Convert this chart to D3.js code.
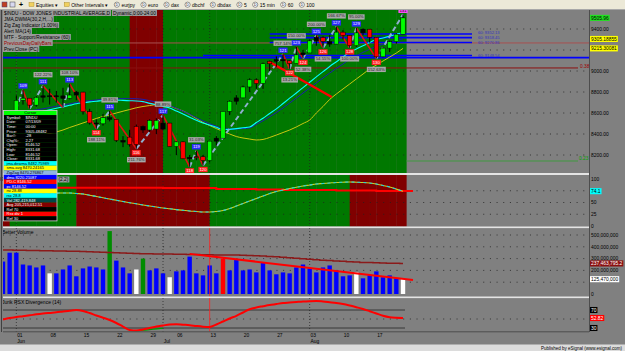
<!DOCTYPE html>
<html><head><meta charset="utf-8">
<script src="https://cdn.jsdelivr.net/npm/d3@7"></script>
<style>
html,body{margin:0;padding:0;background:#808080;overflow:hidden;}
svg{display:block;}
text{font-family:"Liberation Sans",Arial,sans-serif;}
</style></head><body>
<svg id="chart" width="625" height="351"></svg>
<script>
// ---------------- DATA ----------------
const opens=[8300,8404,8500,8721,8741,8675,8750,8764,8764,8763,8739,8771,8799,8612,8505,8497,8556,8540,8339,8370,8300,8472,8438,8529,8447,8504,8281,8325,8164,8178,8183,8147,8332,8360,8616,8712,8744,8848,8916,8881,9069,9093,9108,9097,9071,9154,9172,9287,9320,9281,9256,9370,9338,9241,9363,9398,9321,9135,9218,9279,9350];
const highs=[8440,8510,8768,8820,8741,8760,8860,8830,8810,8840,8877,8810,8799,8640,8540,8590,8620,8540,8380,8440,8490,8480,8540,8550,8580,8504,8330,8330,8200,8240,8200,8332,8380,8620,8720,8770,8860,8930,8930,9080,9100,9140,9160,9100,9230,9200,9300,9340,9330,9340,9420,9390,9338,9410,9405,9400,9321,9230,9290,9360,9540];
const lows=[8277,8381,8500,8680,8640,8660,8700,8680,8700,8650,8730,8720,8585,8490,8450,8480,8520,8323,8275,8280,8260,8410,8420,8400,8440,8280,8200,8160,8087,8150,8100,8130,8290,8360,8580,8680,8740,8800,8830,8830,9000,9040,9030,9020,9070,9120,9172,9240,9220,9230,9256,9300,9220,9230,9340,9270,9120,9130,9180,9260,9350];
const closes=[8404,8500,8721,8741,8675,8750,8764,8764,8763,8739,8771,8799,8612,8505,8497,8556,8540,8339,8323,8300,8472,8438,8529,8447,8504,8281,8325,8164,8178,8183,8147,8332,8360,8616,8712,8744,8848,8916,8881,9069,9093,9108,9097,9071,9154,9172,9287,9320,9281,9256,9370,9338,9241,9363,9398,9321,9135,9218,9279,9350,9506];
const candleColors=["g","g","g","g","r","g","k","k","k","k","g","k","r","r","k","g","k","r","k","r","r","k","g","g","k","r","g","r","k","r","r","g","k","g","g","k","g","g","r","g","r","k","k","r","g","k","g","k","r","k","g","r","r","g","k","r","r","g","g","g","g"];
const jma=[8557,8567,8576,8586,8595,8605,8616,8630,8645,8659,8673,8688,8698,8706,8712,8719,8724,8723,8720,8717,8715,8708,8692,8678,8663,8648,8619,8590,8560,8530,8505,8485,8464,8443,8444,8451,8459,8467,8509,8550,8595,8639,8690,8741,8791,8842,8893,8944,8994,9043,9088,9133,9180,9210,9240,9271,9299,9315,9332,9350,9367];
const dma=[8590,8598,8606,8614,8622,8630,8640,8652,8664,8676,8688,8700,8710,8718,8724,8730,8734,8736,8737,8737,8736,8730,8718,8704,8688,8670,8645,8617,8588,8555,8524,8498,8474,8452,8446,8448,8452,8458,8492,8526,8565,8604,8648,8695,8742,8790,8838,8887,8934,8980,9025,9067,9110,9145,9177,9207,9235,9255,9275,9292,9305];
const sma=[8267,8286,8305,8333,8352,8371,8390,8405,8419,8438,8462,8483,8505,8526,8548,8567,8581,8600,8617,8633,8650,8662,8671,8681,8686,8667,8643,8619,8586,8548,8510,8481,8452,8424,8400,8376,8362,8352,8343,8348,8367,8390,8414,8438,8467,8500,8533,8600,8662,8729,8781,8829,8876,8924,8971,9019,9057,9095,9133,9171,9215];
const mainTrend=[1,1,1,1,1,1,1,1,1,1,1,1,1,1,1,1,1,1,1,0,0,0,0,0,1,1,1,1,1,1,1,1,1,1,1,1,1,1,1,1,1,1,1,1,1,1,1,1,1,1,1,1,1,1,1,1,1,1,1,1,1];
const stochTrend=[0,1,1,1,1,1,1,1,1,1,1,0,0,0,0,0,0,0,0,0,0,0,0,0,0,0,0,0,0,0,0,1,1,1,1,1,1,1,1,1,1,1,1,1,1,1,1,1,1,1,1,1,0,0,0,0,0,0,0,0,0];
const pivotIdx=[0,3,4,6,9,10,14,16,20,24,28,29,30,42,43,44,45,47,48,50,52,53,56,60];
const pivotType=["L","H","L","H","L","H","L","H","L","H","L","H","L","H","L","H","L","H","L","H","L","H","L","H"];
const pivotNum=["108","109","110","111","112","113","114","115","116","117","118","119","120","121","122","123","124","125","126","127","128","129","130","131"];
const alertLine=[[40,9086],[49.3,8752]];
const mtfLevels=[9352,9318,9271,9148,9127];
const mtfStartIdx=[40,40,40,30,0];
const mtfFull=[false,false,false,false,true];
const mtfText=["60: 9352.13","60: 9318.45","60: 9270.86","60: 9148.54",""];
const prevCloseLevel=9267;
const fibLevels=[9029,8143];
const fibText=["0.38","0.23"];
const priceTicks=[8200,8400,8600,8800,9000,9200,9400];
const priceTickShown=[true,true,true,true,true,false,true];
const lastPrice=9505.96;
const maLabels=[9305.18855,9215.30081];
const maLabelText=["9305.18855","9215.30081"];
const stochLine=[70,70,70,70,70,70,70,70,70,70.2,70.2,69.1,68.1,65.3,62.8,60.0,57.4,54.7,52.1,49.6,47.2,44.7,42.6,40.4,38.3,36.6,34.9,33.4,31.9,30.9,29.8,29.8,30.9,33.0,37.2,42.6,47.9,53.2,58.5,63.8,69.1,73.4,76.6,79.8,82.3,85.1,87.2,89.4,90.4,91.5,92.6,93.2,93.6,93.2,92.6,91.5,89.4,86.2,83.0,78.5,74.1];
const stochSignal=[81.5,81.5,81.5,81.5,81.5,81.5,81.5,81.5,81.5,81.5,81.5,81.5,81.2,81.2,81.2,81.2,81.2,81.2,81.2,81.2,81.2,81.2,81.2,81.2,80.9,80.9,80.9,80.9,80.9,80.9,80.9,80.9,78.7,78.7,78.7,78.7,78.7,78.7,77.5,77.5,77.5,77.5,76.6,76.6,76.6,76.6,76.6,76.6,76.6,76.6,75.5,75.5,75.5,75.5,75.5,75.5,74.6,74.6,74.6,74.6,74.6];
const stochTicks=[0,25,50,75,100];
const stochTickShown=[true,true,true,false,true];
const volumes=[275,350,350,250,242,225,242,175,175,208,242,150,217,233,225,208,533,283,225,175,208,300,200,217,175,142,192,200,317,175,158,242,175,300,200,292,200,208,183,267,200,167,183,175,225,250,217,183,225,242,200,150,158,183,133,158,192,142,158,133,125.47];
const volColors=["b","b","b","b","b","b","b","w","b","b","b","b","b","b","b","b","g","b","b","b","w","g","b","b","b","w","b","b","b","b","b","b","b","r","b","b","b","b","b","b","b","b","b","b","b","b","b","b","b","b","b","b","b","w","b","b","b","b","b","b","w"];
const volAvg=[373,372,371,370,369,368,367,366,365,364,363,362,360,358,356,354,352,350,348,346,344,342,341,340,339,338,337,336,335,334,333,332,331,330,330,330,329,327,324,321,318,315,311,307,303,299,295,291,287,283,280,277,274,271,268,266,264,262,261,260,259];
const volTrend=[[28,340],[61.5,119]];
const volTicks=[0,100,200,300,400,500];
const volTickShown=[true,false,true,true,true,true];
const rsx=[48.9,52.2,54.4,56.2,58.2,60.4,62.2,63.6,64.9,66.7,68.4,70,67.8,63.3,57.8,52.9,47.8,41.1,33.3,25.6,24.4,26.7,30,33.3,35.6,37.8,38.4,37.3,36.2,34.4,32.9,32.2,37.8,44.4,51.1,57.1,64.4,71.6,75.6,78.4,81.1,83.3,85.6,86.7,87.8,88.9,89.6,90,88.9,87.3,85.6,83.3,80,76.2,72.2,67.3,62.2,57.3,54,52.7,52.2];
const rsxDivIdx=[19,20,21,22,23,24];
const rsxDiv=[25.0,24.0,25.0,26.5,28.0,29.5];
const rsxRefs=[70,30];
const tickIdx=[2,7,12,17,22,26,31,36,41,46,51,56];
const tickLabels=["01","08","15","22","29","06","13","20","27","03","10","17"];
const monthIdx=[2,24,46];
const monthLabels=["Jun","Jul","Aug"];
const cursorIdx=31;
const legendLines=["$INDU - DOW JONES INDUSTRIAL AVERAGE,D","JMA,DWMA(30,2,H,...)","Zig Zag Indicator (1.00%)","Alert MA(14)","MTF - Support/Resistance (60)","PreviousDayDailyBars","Prev.Close (PC)"];
const toolbarItems=["Equities \u25BE","Other Intervals \u25BE","eurjpy","euro","dax","dbchf","dbdax","5","15 min","60","100"];
const infoRows=[
 ["Cursor","","#00ff00","#000"],
 ["Symbol:","$INDU","#000","#fff"],["Date:","07/13/09","#000","#fff"],["Time:","00:00","#000","#fff"],
 ["Price:","9305.48482","#000","#fff"],["Bar#:","-28","#000","#fff"],["Chg%:","2.27","#000","#fff"],
 ["Open:","8146.52","#000","#fff"],["High:","8331.68","#000","#fff"],["Low:","8146.52","#000","#fff"],["Close:","8331.68","#000","#fff"],
 ["jma.dewma","8482.75989","#00ffff","#000"],["sma.avg","8470.24165","#ffff00","#000"],["ZigZag","8470.276867","#8fb4e0","#000"],
 ["dma","8220.21087","#0000ff","#fff"],["PD.C","8146.52","#ff0000","#fff"],["pc","8146.52","#0000ff","#fff"],
 ["rsi","28.88","#ffff00","#000"],["rsx","28.8","#00ffff","#000"],["Vol","282,419,848","#004848","#fff"],
 ["Avg","205,215,012.51","#800000","#fff"],["Ref","70","#000","#fff"],["Rsx div","1","#ff0000","#fff"],["Ref","30","#000","#fff"]
];

// ---------------- LAYOUT ----------------
const svg=d3.select('#chart');
const N=opens.length;
const x=d3.scaleLinear().domain([0,60]).range([3,403]);
const yP=d3.scaleLinear().domain([8000,9600]).range([176,8]);
const yS=d3.scaleLinear().domain([0,100]).range([226,179]);
const yV=d3.scaleLinear().domain([0,500]).range([294,235]);
const yR=d3.scaleLinear().domain([30,70]).range([328,310]);
const XL=3, XR=589, XEND=x(60.5);
const GREEN='#007800', DRED='#800000';
const rowH=4.6, ib0=110.5, ibx=3.5, ibw=53.5;
const inInfo=(px,py)=>px>ibx-6&&px<ibx+ibw+6&&py>ib0-3&&py<ib0+24*rowH+3;

svg.append('rect').attr('width',625).attr('height',351).attr('fill','#808080');
const defs=svg.append('defs');
function clip(id,y0,y1){defs.append('clipPath').attr('id',id).append('rect').attr('x',XL).attr('y',y0).attr('width',XR-XL).attr('height',y1-y0);return `url(#${id})`;}
const cMain=clip('cm',10,173), cSto=clip('cs',175,226.5), cVol=clip('cv',228,296.5), cRsx=clip('cr',298,331.5);

function boxText(g,x0,yc,text,bg,fg,fs,anchor,pad,weight){
  const grp=g.append('g');
  const r=grp.append('rect');
  const t=grp.append('text').attr('x',x0).attr('y',yc+fs*0.36).attr('text-anchor',anchor||'start').attr('font-size',fs).attr('fill',fg).attr('font-weight',weight||'normal').text(text);
  const w=t.node().getComputedTextLength()+2*(pad||1);
  let rx=x0-(pad||1); if(anchor==='middle')rx=x0-w/2; if(anchor==='end')rx=x0-w+(pad||1);
  r.attr('x',rx).attr('y',yc-fs*0.62).attr('width',w).attr('height',fs*1.24).attr('fill',bg);
  return grp;
}

// toolbar
const tb=svg.append('g');
tb.append('rect').attr('x',0).attr('y',0).attr('width',625).attr('height',9.5).attr('fill','#ece9d8');
tb.append('line').attr('x1',0).attr('x2',625).attr('y1',9.5).attr('y2',9.5).attr('stroke','#a8a8a8');
tb.append('rect').attr('x',2).attr('y',2).attr('width',5).attr('height',5).attr('fill','#c04020').attr('stroke','#404080').attr('stroke-width',0.5);
tb.append('rect').attr('x',10).attr('y',2).attr('width',5).attr('height',5).attr('fill','#d8d8f0').attr('stroke','#404040').attr('stroke-width',0.5);
tb.append('text').attr('x',19).attr('y',7.2).attr('font-size',7).attr('font-weight','bold').text('+');
{
  let cx=29;
  toolbarItems.forEach((t,k)=>{
    if(k<2){
      tb.append('rect').attr('x',cx).attr('y',2.5).attr('width',5).attr('height',4).attr('fill','#f0d060').attr('stroke','#a08020').attr('stroke-width',0.4);
      cx+=7;
    } else {
      tb.append('circle').attr('cx',cx+2.5).attr('cy',4.7).attr('r',2.6).attr('fill','#fff').attr('stroke','#303030').attr('stroke-width',0.5);
      tb.append('text').attr('x',cx+2.5).attr('y',6.2).attr('text-anchor','middle').attr('font-size',3.6).text('D');
      cx+=7;
    }
    const tt=tb.append('text').attr('x',cx).attr('y',6.6).attr('font-size',5).attr('fill','#000').text(t);
    cx+=tt.node().getComputedTextLength()+6;
  });
}

// ---------------- MAIN PANEL ----------------
const gm=svg.append('g').attr('clip-path',cMain);
for(let i=0;i<N;i++){
  const x0=i===0?XL:x(i), x1=Math.min(x(i+1),XEND);
  gm.append('rect').attr('x',x0).attr('y',10).attr('width',x1-x0+0.3).attr('height',163).attr('fill',mainTrend[i]?GREEN:DRED);
}
priceTicks.forEach(p=>gm.append('line').attr('x1',XL).attr('x2',XR).attr('y1',yP(p)).attr('y2',yP(p)).attr('stroke','#202020').attr('stroke-dasharray','1,5.67').attr('stroke-width',0.8));
monthIdx.forEach(i=>gm.append('line').attr('x1',x(i)).attr('x2',x(i)).attr('y1',10).attr('y2',173).attr('stroke','#202020').attr('stroke-dasharray','1,2').attr('stroke-width',0.7));
gm.append('line').attr('x1',x(cursorIdx)).attr('x2',x(cursorIdx)).attr('y1',10).attr('y2',173).attr('stroke','#202020').attr('stroke-dasharray','1,2').attr('stroke-width',0.7);
gm.append('line').attr('x1',XL).attr('x2',XR).attr('y1',yP(prevCloseLevel)).attr('y2',yP(prevCloseLevel)).attr('stroke','#a85050').attr('stroke-width',1);
gm.append('line').attr('x1',XL).attr('x2',578).attr('y1',yP(fibLevels[0])).attr('y2',yP(fibLevels[0])).attr('stroke','#8b1010').attr('stroke-width',1);
gm.append('line').attr('x1',XEND).attr('x2',578).attr('y1',yP(fibLevels[1])).attr('y2',yP(fibLevels[1])).attr('stroke','#30a030').attr('stroke-width',0.8);
mtfLevels.forEach((p,k)=>{
  gm.append('line').attr('x1',Math.max(XL,x(mtfStartIdx[k]))).attr('x2',mtfFull[k]?XR:472).attr('y1',yP(p)).attr('y2',yP(p)).attr('stroke','#0000ff').attr('stroke-width',1.6);
});
const lineP=(arr)=>d3.line().x((d,i)=>x(i)).y(d=>yP(d)).curve(d3.curveMonotoneX)(arr);
gm.append('path').attr('d',lineP(sma)).attr('fill','none').attr('stroke','#c8c810').attr('stroke-width',1);
gm.append('path').attr('d',lineP(dma)).attr('fill','none').attr('stroke','#1c1cb0').attr('stroke-width',1);
gm.append('path').attr('d',lineP(jma)).attr('fill','none').attr('stroke','#00ffff').attr('stroke-width',1.1);
const pivotPrice=pivotIdx.map((i,k)=>pivotType[k]==='H'?highs[i]:lows[i]);
for(let k=1;k<pivotIdx.length;k++){
  const up=pivotType[k]==='H';
  gm.append('line').attr('x1',x(pivotIdx[k-1])).attr('y1',yP(pivotPrice[k-1])).attr('x2',x(pivotIdx[k])).attr('y2',yP(pivotPrice[k]))
    .attr('stroke',up?'#8fb0d0':'#e01010').attr('stroke-width',up?2:1.6).attr('stroke-dasharray',up?'5,3':null);
}
gm.append('line').attr('x1',x(alertLine[0][0])).attr('y1',yP(alertLine[0][1])).attr('x2',x(alertLine[1][0])).attr('y2',yP(alertLine[1][1])).attr('stroke','#ff0000').attr('stroke-width',2.2);
const cfill={g:'#00ff00',r:'#ff0000',k:'#000000'};
for(let i=0;i<N;i++){
  gm.append('line').attr('x1',x(i)).attr('x2',x(i)).attr('y1',yP(highs[i])).attr('y2',yP(lows[i])).attr('stroke','#000').attr('stroke-width',1);
  const top=yP(Math.max(opens[i],closes[i])), bot=yP(Math.min(opens[i],closes[i]));
  gm.append('rect').attr('x',x(i)-2.2).attr('y',top).attr('width',4.4).attr('height',Math.max(1,bot-top)).attr('fill',cfill[candleColors[i]]).attr('stroke','#000').attr('stroke-width',0.5);
}
pivotIdx.forEach((i,k)=>{
  const isH=pivotType[k]==='H', py=yP(pivotPrice[k]);
  const last=k===pivotIdx.length-1;
  const by=isH?py-4:py+4, gy=isH?py-11:py+11;
  if(k>=2 && !last && !inInfo(x(i),gy) && gy<170 && gy>12){
    const pct=Math.abs(pivotPrice[k]-pivotPrice[k-1])/Math.abs(pivotPrice[k-1]-pivotPrice[k-2])*100;
    boxText(gm,x(i),gy,pct.toFixed(2)+'%','#a8a8a8','#202020',4.3,'middle',1);
  }
  if(!inInfo(x(i),by)) boxText(gm,x(i),by,pivotNum[k],last?'#ff50ff':(isH?'#2a2aff':'#ff2020'),last?'#000':'#fff',4.3,'middle',1);
});
legendLines.forEach((t,k)=>{
  boxText(gm,4,13+k*6,t,'#9c9c9c',k===5?'#a00000':'#000',4.8,'start',1);
});
boxText(gm,113,13,'Dynamic,0:00-24:00','#9c9c9c','#000',4.8,'start',1);
const gr=svg.append('g');
const mtfLabelShift=[-1,0,0.3,0,0];
mtfText.forEach((t,k)=>{ if(t) gr.append('text').attr('x',478).attr('y',yP(mtfLevels[k])+mtfLabelShift[k]+1.4).attr('font-size',4.1).attr('fill','#3434c0').text(t); });
gr.append('text').attr('x',580).attr('y',yP(fibLevels[0])+0.5).attr('font-size',4.8).attr('fill','#a00000').text(fibText[0]);
gr.append('text').attr('x',579).attr('y',yP(fibLevels[1])-0.5).attr('font-size',4.8).attr('fill','#00a000').text(fibText[1]);

// ---------------- STOCH PANEL ----------------
const gs=svg.append('g').attr('clip-path',cSto);
for(let i=0;i<N;i++){
  const x0=i===0?XL:x(i), x1=Math.min(x(i+1),XEND);
  gs.append('rect').attr('x',x0).attr('y',175).attr('width',x1-x0+0.3).attr('height',52).attr('fill',stochTrend[i]?GREEN:DRED);
}
[25,50,75].forEach(v=>gs.append('line').attr('x1',XL).attr('x2',XR).attr('y1',yS(v)).attr('y2',yS(v)).attr('stroke','#202020').attr('stroke-dasharray','1,5.67').attr('stroke-width',0.8));
gs.append('line').attr('x1',x(cursorIdx)).attr('x2',x(cursorIdx)).attr('y1',175).attr('y2',227).attr('stroke','#202020').attr('stroke-dasharray','1,2').attr('stroke-width',0.7);
monthIdx.forEach(i=>gs.append('line').attr('x1',x(i)).attr('x2',x(i)).attr('y1',175).attr('y2',227).attr('stroke','#202020').attr('stroke-dasharray','1,2').attr('stroke-width',0.7));
const sigPts=stochSignal.map((v,i)=>[i,v]); sigPts.push([61.5,stochSignal[N-1]]);
gs.append('path').attr('d',d3.line().x(d=>x(d[0])).y(d=>yS(d[1])).curve(d3.curveStepAfter)(sigPts)).attr('fill','none').attr('stroke','#ff0000').attr('stroke-width',2);
const stPath=d3.line().x((d,i)=>x(i)).y(d=>yS(d)).curve(d3.curveMonotoneX)(stochLine);
gs.append('path').attr('d',stPath).attr('fill','none').attr('stroke','#d0d020').attr('stroke-width',1.1);
gs.append('path').attr('d',stPath).attr('fill','none').attr('stroke','#20d0e0').attr('stroke-width',1.1).attr('stroke-dasharray','3,3');
svg.append('text').attr('x',0.3).attr('y',181).attr('font-size',4.8).attr('fill','#000').text('K');
boxText(svg,58.5,179.5,'(2,2)','#9c9c9c','#000',4.8,'start',1);

// ---------------- VOLUME PANEL ----------------
const gv=svg.append('g').attr('clip-path',cVol);
volTicks.filter(v=>v>0).forEach(v=>gv.append('line').attr('x1',XL).attr('x2',XR).attr('y1',yV(v)).attr('y2',yV(v)).attr('stroke','#202020').attr('stroke-dasharray','1,5.67').attr('stroke-width',0.8));
monthIdx.forEach(i=>gv.append('line').attr('x1',x(i)).attr('x2',x(i)).attr('y1',228).attr('y2',297).attr('stroke','#202020').attr('stroke-dasharray','1,2').attr('stroke-width',0.7));
const vfill={b:'#0000ff',w:'#ffffff',g:'#008c00',r:'#ff0000'};
volumes.forEach((v,i)=>gv.append('rect').attr('x',x(i)-2.2).attr('y',yV(v)).attr('width',4.4).attr('height',yV(0)-yV(v)).attr('fill',vfill[volColors[i]]));
gv.append('line').attr('x1',x(cursorIdx)).attr('x2',x(cursorIdx)).attr('y1',228).attr('y2',297).attr('stroke','#ff2020').attr('stroke-width',0.8);
gv.append('path').attr('d',d3.line().x((d,i)=>x(i)).y(d=>yV(d)).curve(d3.curveStep)(volAvg)).attr('fill','none').attr('stroke','#8b1a1a').attr('stroke-width',1.5);
gv.append('line').attr('x1',x(volTrend[0][0])).attr('y1',yV(volTrend[0][1])).attr('x2',x(volTrend[1][0])).attr('y2',yV(volTrend[1][1])).attr('stroke','#ff0000').attr('stroke-width',2);
gv.append('text').attr('x',2).attr('y',234).attr('font-size',5).attr('fill','#000').text('Better Volume');

// ---------------- RSX PANEL ----------------
const gx=svg.append('g').attr('clip-path',cRsx);
gx.append('line').attr('x1',XL).attr('x2',XR).attr('y1',yR(50)).attr('y2',yR(50)).attr('stroke','#202020').attr('stroke-dasharray','1,5.67').attr('stroke-width',0.8);
rsxRefs.forEach(v=>gx.append('line').attr('x1',XL).attr('x2',405).attr('y1',yR(v)).attr('y2',yR(v)).attr('stroke','#303030').attr('stroke-width',0.9));
monthIdx.forEach(i=>gx.append('line').attr('x1',x(i)).attr('x2',x(i)).attr('y1',298).attr('y2',332).attr('stroke','#202020').attr('stroke-dasharray','1,2').attr('stroke-width',0.7));
gx.append('line').attr('x1',x(cursorIdx)).attr('x2',x(cursorIdx)).attr('y1',298).attr('y2',332).attr('stroke','#ff2020').attr('stroke-width',0.8);
gx.append('path').attr('d',d3.line().x((d,k)=>x(rsxDivIdx[k])).y(d=>yR(d)).curve(d3.curveMonotoneX)(rsxDiv)).attr('fill','none').attr('stroke','#00a000').attr('stroke-width',1.2);
gx.append('path').attr('d',d3.line().x((d,i)=>x(i)).y(d=>yR(d)).curve(d3.curveMonotoneX)(rsx)).attr('fill','none').attr('stroke','#ff0000').attr('stroke-width',2);
gx.append('text').attr('x',2).attr('y',303.5).attr('font-size',5).attr('fill','#000').text('Jurik RSX Divergence (14)');

// ---------------- SEPARATORS / AXES ----------------
const ga=svg.append('g');
[[173,2],[226.5,1.6],[296.5,1.6]].forEach(s=>ga.append('rect').attr('x',XL).attr('y',s[0]).attr('width',XR-XL).attr('height',s[1]).attr('fill','#e4e4e4'));
ga.append('line').attr('x1',XL).attr('x2',XR).attr('y1',331.8).attr('y2',331.8).attr('stroke','#404040').attr('stroke-width',0.8);
ga.append('line').attr('x1',XR+0.5).attr('x2',XR+0.5).attr('y1',10).attr('y2',332).attr('stroke','#404040').attr('stroke-width',0.8);
ga.append('line').attr('x1',1.5).attr('x2',1.5).attr('y1',10).attr('y2',332).attr('stroke','#404040').attr('stroke-width',1);
const fs=4.9;
priceTicks.forEach((p,k)=>{ if(priceTickShown[k]) ga.append('text').attr('x',591).attr('y',yP(p)+1.7).attr('font-size',fs).attr('fill','#000').text(d3.format('.2f')(p)); });
stochTicks.forEach((v,k)=>{ if(stochTickShown[k]) ga.append('text').attr('x',591).attr('y',yS(v)+1.7).attr('font-size',fs).attr('fill','#000').text(v); });
volTicks.forEach((v,k)=>{ if(volTickShown[k]) ga.append('text').attr('x',591).attr('y',yV(v)+1.7).attr('font-size',fs).attr('fill','#000').text(d3.format(',')(v*1e6)); });
boxText(ga,591,yP(lastPrice),d3.format('.2f')(lastPrice),'#20e020','#000',fs,'start',1);
maLabels.forEach((v,k)=>boxText(ga,591,yP(v),maLabelText[k],'#ffff00','#000',fs,'start',1));
boxText(ga,591,yS(stochLine[N-1]),d3.format('.1f')(stochLine[N-1]),'#00ffff','#000',fs,'start',1);
boxText(ga,591,yV(volAvg[N-1]),'237,463,795.2','#8b1010','#fff',fs,'start',1);
boxText(ga,591,yV(volumes[N-1]),d3.format(',')(Math.round(volumes[N-1]*1e6)),'#ffffff','#000',fs,'start',1);
rsxRefs.forEach(v=>boxText(ga,591,yR(v),String(v),'#000','#fff',fs,'start',1));
boxText(ga,591,yR(rsx[N-1]),'52.82','#ff0000','#fff',fs,'start',1);
tickIdx.forEach((i,k)=>ga.append('text').attr('x',x(i)+0.8).attr('y',336.5).attr('font-size',fs).attr('fill','#000').text(tickLabels[k]));
monthIdx.forEach((i,k)=>ga.append('text').attr('x',x(i)+0.8).attr('y',342.5).attr('font-size',fs).attr('fill','#000').text(monthLabels[k]));
ga.append('rect').attr('x',0).attr('y',344.5).attr('width',625).attr('height',7).attr('fill','#dcdcdc');
ga.append('text').attr('x',622).attr('y',349.8).attr('text-anchor','end').attr('font-size',4.5).attr('fill','#000').text('Published by eSignal (www.esignal.com)');

// ---------------- INFO BOX ----------------
const gi=svg.append('g');
infoRows.forEach((r,k)=>{
  const yy=ib0+k*rowH;
  gi.append('rect').attr('x',ibx).attr('y',yy).attr('width',ibw).attr('height',rowH).attr('fill',r[2]);
  if(k===0){
    gi.append('text').attr('x',ibx+ibw/2).attr('y',yy+3.6).attr('text-anchor','middle').attr('font-size',4).attr('fill',r[3]).text(r[0]);
  } else if(k<=10){
    gi.append('text').attr('x',ibx+3).attr('y',yy+3.6).attr('font-size',4).attr('fill',r[3]).text(r[0]);
    gi.append('text').attr('x',ibx+22).attr('y',yy+3.6).attr('font-size',4).attr('fill',r[3]).text(r[1]);
  } else {
    gi.append('text').attr('x',ibx+3).attr('y',yy+3.6).attr('font-size',4).attr('fill',r[3]).text(r[0]+' '+r[1]);
  }
});
gi.append('rect').attr('x',ibx).attr('y',ib0).attr('width',ibw).attr('height',infoRows.length*rowH).attr('fill','none').attr('stroke','#d0d0d0').attr('stroke-width',0.8);
</script>
</body></html>
